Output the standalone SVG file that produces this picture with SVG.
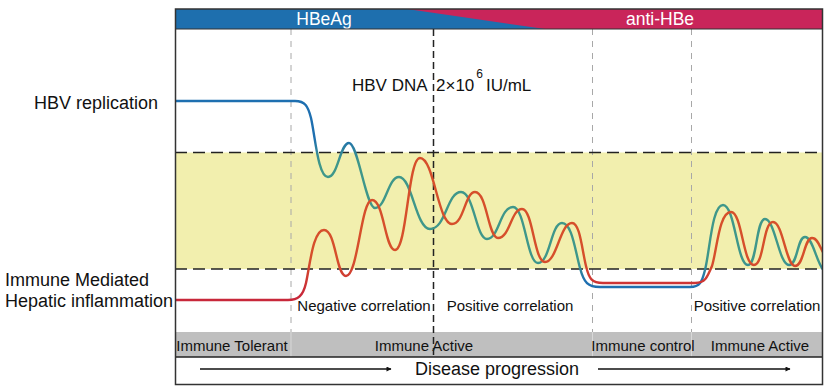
<svg xmlns="http://www.w3.org/2000/svg" width="831" height="391" viewBox="0 0 831 391">
<defs>
<style>
text{font-family:"Liberation Sans",Arial,sans-serif;fill:#111}
.hdr{fill:#fff;font-size:17.5px;text-anchor:middle}
.lbl{font-size:18px}
.ann{font-size:15px;text-anchor:middle}
.bar{font-size:15px;text-anchor:middle}
.gdash{stroke:#a8a8a8;stroke-width:1;stroke-dasharray:6 6;fill:none}
.hdash{stroke:#222;stroke-width:1.5;stroke-dasharray:12 6;fill:none}
.vdash{stroke:#222;stroke-width:1.5;stroke-dasharray:7 4;fill:none}
.curve{fill:none;stroke-width:2.4;stroke-linecap:round;stroke-linejoin:round}
.arr{stroke:#111;stroke-width:1.6;fill:none;marker-end:url(#ah)}
</style>
<linearGradient id="gb" gradientUnits="userSpaceOnUse" x1="0" y1="100" x2="0" y2="290">
<stop offset="0" stop-color="#1e6fb0"/>
<stop offset="0.2" stop-color="#1e6fb0"/>
<stop offset="0.33" stop-color="#3f978a"/>
<stop offset="0.85" stop-color="#3f978a"/>
<stop offset="0.95" stop-color="#1e6fb0"/>
<stop offset="1" stop-color="#1e6fb0"/>
</linearGradient>
<linearGradient id="gr" gradientUnits="userSpaceOnUse" x1="0" y1="150" x2="0" y2="302">
<stop offset="0" stop-color="#d64f2b"/>
<stop offset="0.72" stop-color="#d64f2b"/>
<stop offset="0.95" stop-color="#c8283a"/>
<stop offset="1" stop-color="#c8283a"/>
</linearGradient>
<marker id="ah" viewBox="0 0 10 10" refX="9" refY="5" markerWidth="7" markerHeight="5" orient="auto" markerUnits="userSpaceOnUse">
<path d="M0,0 L10,5 L0,10 Z" fill="#111"/>
</marker>
<clipPath id="plot"><rect x="175" y="29" width="648" height="303"/></clipPath>
</defs>

<rect width="831" height="391" fill="#fff"/>

<g id="band">
<rect x="175" y="152.5" width="648" height="116.5" fill="#f2efae"/>
</g>

<g id="header">
<rect x="175" y="9" width="648" height="20" fill="#c9255a"/>
<polygon points="175,9 407,9 545,29 175,29" fill="#1e6fae"/>
<text class="hdr" x="324" y="25">HBeAg</text>
<text class="hdr" x="660" y="25">anti-HBe</text>
</g>

<g id="guides">
<line class="gdash" x1="291" y1="29" x2="291" y2="332"/>
<line class="gdash" x1="592.5" y1="29" x2="592.5" y2="332"/>
<line class="gdash" x1="691.5" y1="29" x2="691.5" y2="332"/>
<line class="hdash" x1="175" y1="152.5" x2="823" y2="152.5"/>
<line class="hdash" x1="175" y1="269" x2="823" y2="269"/>
</g>

<g id="phases">
<rect x="175" y="332" width="648" height="25" fill="#bfbfbf"/>
<g stroke="#d8d8d8" stroke-width="1">
<line x1="291" y1="332" x2="291" y2="357"/>
<line x1="592.5" y1="332" x2="592.5" y2="357"/>
<line x1="691.5" y1="332" x2="691.5" y2="357"/>
</g>
<line x1="175" y1="357" x2="823" y2="357" stroke="#222" stroke-width="1.5"/>
<text class="bar" x="232" y="351">Immune Tolerant</text>
<text class="bar" x="424" y="351">Immune Active</text>
<text class="bar" x="643" y="351">Immune control</text>
<text class="bar" x="760" y="351">Immune Active</text>
</g>

<line id="dna-threshold" class="vdash" x1="433.5" y1="29" x2="433.5" y2="357"/>

<g id="connectors" clip-path="url(#plot)">
<path id="hbv-curve" class="curve" stroke="url(#gb)" d="M175,101 H295 C305,101 308,106 311,118 C315,135 318,177 328,177 C338,177 340,143 349,143 C358,143 366,208 375,208 C386,208 388,177 399,177 C412,177 416,229 430,229 C446,229 447,192 461,192 C474,192 476,239 487,239 C499,239 500,207 513,207 C525,207 527,263 538,263 C550,263 551,223 562,223 C572,223 575,250 580,268 C584,283 588,287 600,287 H690 C700,287 702,282 705,270 C710,250 712,205 723,205 C735,205 737,265 748,265 C757,265 756,219 765,219 C775,219 779,265 789,265 C798,265 797,237 805,237 C813,237 816,262 824,271"/>
<path id="inflammation-curve" class="curve" stroke="url(#gr)" d="M175,300 H288 C298,300 303,296 306,283 C310,265 313,230 324,230 C336,230 336,276 346,276 C358,276 361,200 372,200 C384,200 385,250 395,250 C407,250 408,158 420,158 C434,158 438,224 452,224 C464,224 465,192 475,192 C487,192 488,238 498,238 C510,238 511,209 522,209 C533,209 534,262 545,262 C557,262 560,223 572,223 C580,223 582,250 586,266 C589,279 592,283 603,283 H695 C705,283 707,278 712,266 C717,250 719,212 731,212 C742,212 743,265 754,265 C764,265 763,222 773,222 C783,222 786,266 795,266 C804,266 804,238 812,238 C818,238 820,248 824,254"/>
</g>

<g id="annotations">
<text x="352" y="91" style="font-size:17px">HBV DNA<tspan x="436">2×10</tspan><tspan dx="2" dy="-13" style="font-size:12px">6</tspan><tspan dx="3" dy="13">IU/mL</tspan></text>
<text class="ann" x="364" y="311">Negative correlation</text>
<text class="ann" x="510" y="311">Positive correlation</text>
<text class="ann" x="757" y="311">Positive correlation</text>
</g>

<g id="axis-labels">
<text class="lbl" x="158" y="109" text-anchor="end">HBV replication</text>
<text class="lbl" x="5" y="286">Immune Mediated</text>
<text class="lbl" x="5" y="307">Hepatic inflammation</text>
</g>

<g id="progression">
<line class="arr" x1="200" y1="369" x2="391" y2="369"/>
<line class="arr" x1="598" y1="369" x2="790" y2="369"/>
<text x="497" y="375" style="font-size:18px" text-anchor="middle">Disease progression</text>
</g>

<g id="frame" fill="none" stroke="#333" stroke-width="1.5">
<rect x="175.5" y="9" width="647" height="375.5"/>
<line x1="175" y1="29" x2="823" y2="29" stroke-width="1.2"/>
</g>
</svg>
